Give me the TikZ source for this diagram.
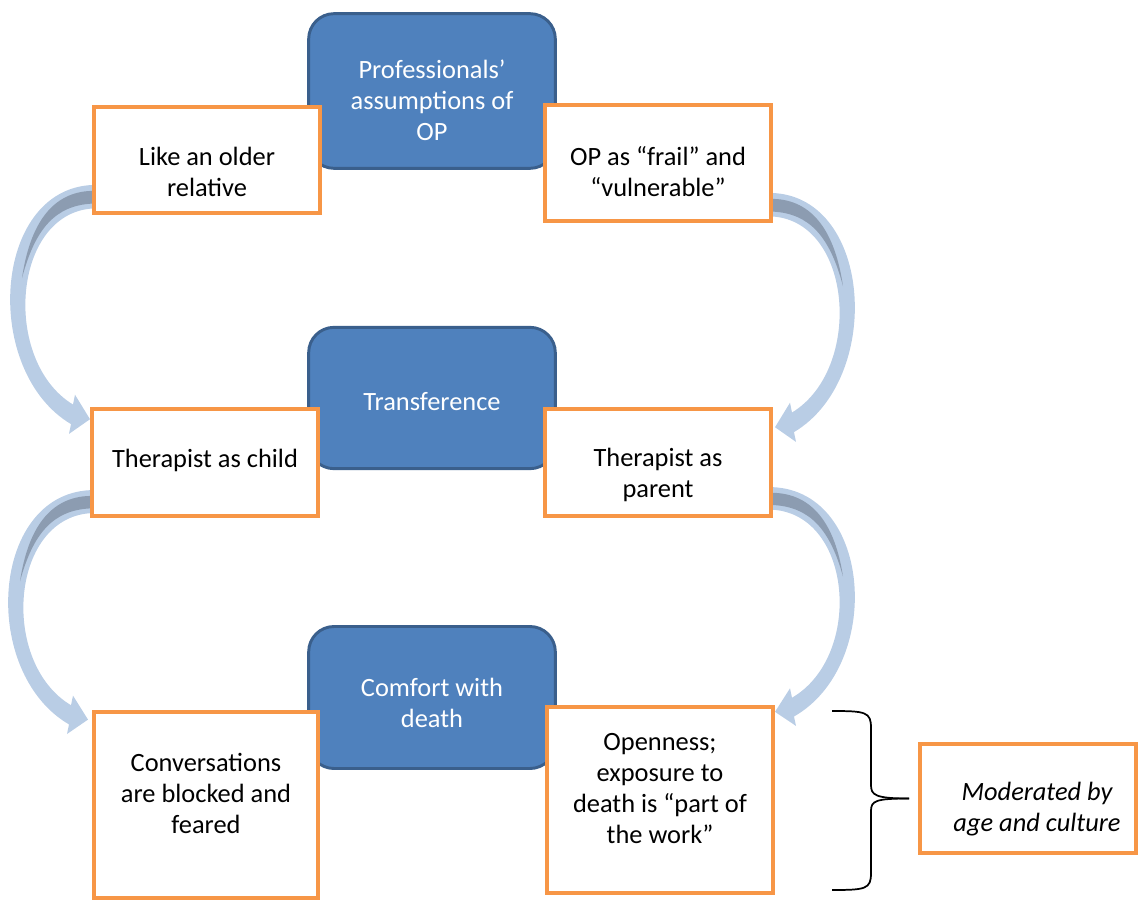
\documentclass[tikz,border=0pt]{standalone}
\usepackage{fontspec}
\setmainfont{Carlito}
\usetikzlibrary{calc,backgrounds}
\definecolor{bluefill}{HTML}{4F81BD}
\definecolor{blueline}{HTML}{3A5F8C}
\definecolor{orangeline}{HTML}{F79646}
\definecolor{arrowlight}{HTML}{B9CDE5}
\definecolor{arrowdark}{HTML}{8C9CB1}
\newcommand{\blockarrowshape}{%
  \fill[arrowlight] (0,0) .. controls (-100,5) and (-110,190) .. (-21,244) -- (-23,254) -- (-2,239) -- (-17,214) -- (-19,224) .. controls (-90,180) and (-80,30) .. (0,24) -- cycle;
  \fill[arrowdark] (0,6) .. controls (-40,7) and (-62,40) .. (-70,95) .. controls (-57,45) and (-37,21) .. (0,19) -- cycle;}
\begin{document}
\begin{tikzpicture}[x=0.75pt,y=-0.75pt,
  bluebox/.style={draw=blueline, line width=2.2pt, fill=bluefill, rounded corners=19pt, inner sep=0pt, minimum width=185pt},
  obox/.style={draw=orangeline, line width=3pt, fill=white, inner sep=0pt},
  wtxt/.style={text=white, align=center, font=\fontsize{19.8}{23.25}\selectfont},
  btxt/.style={text=black, align=center, font=\fontsize{19.8}{23.25}\selectfont},
  bracestyle/.style={draw=black, line width=1.3pt}]
\useasboundingbox (0,0) rectangle (1139,902);

% blue category boxes
\node[bluebox, minimum height=116pt] (assume) at (432,91) {};
\node[bluebox, minimum height=106pt] (transf) at (432,398) {};
\node[bluebox, minimum height=106.5pt] (comfort) at (432,697.5) {};

% orange boxes
\node[obox, minimum width=169.5pt, minimum height=79.5pt] (like) at (207,160) {};
\node[obox, minimum width=169.5pt, minimum height=87pt] (frail) at (658,163) {};
\node[obox, minimum width=169.5pt, minimum height=80pt] (child) at (205,462.5) {};
\node[obox, minimum width=169.5pt, minimum height=80pt] (parent) at (658,462.5) {};
\node[obox, minimum width=168pt, minimum height=139.5pt] (conv) at (206,805) {};
\node[obox, minimum width=169.5pt, minimum height=139.5pt] (open) at (660,800) {};
\node[obox, minimum width=162pt, minimum height=81.75pt] (mod) at (1028,798.5) {};

% texts
\node[wtxt] (tassume) at (432,100) {Professionals’\\assumptions of\\OP};
\node[wtxt] (ttransf) at (432,402) {Transference};
\node[wtxt] (tcomfort) at (432,703) {Comfort with\\death};
\node[btxt] (tlike) at (207,172) {Like an older\\relative};
\node[btxt] (tfrail) at (658,172) {OP as “frail” and\\“vulnerable”};
\node[btxt] (tchild) at (205,460) {Therapist as child};
\node[btxt] (tparent) at (658,475) {Therapist as\\parent};
\node[btxt] (tconv) at (206,793) {Conversations\\are blocked and\\feared};
\node[btxt] (topen) at (660,789) {Openness;\\exposure to\\death is “part of\\the work”};
\node[btxt, font=\fontsize{19.8}{23.25}\selectfont\itshape] (tmod) at (1037,809) {Moderated by\\age and culture};

% block arrows behind boxes
\begin{scope}[on background layer]
  \begin{scope}[shift={($(like.north west)+(0,80)$)}, yscale=0.98]
    \blockarrowshape
  \end{scope}
  \begin{scope}[shift={($(child.north west)+(0,83)$)}, yscale=0.96]
    \blockarrowshape
  \end{scope}
  \begin{scope}[shift={($(frail.north east)+(0,90)$)}, xscale=-1, yscale=0.98]
    \blockarrowshape
  \end{scope}
  \begin{scope}[shift={($(parent.north east)+(0,80)$)}, xscale=-1, yscale=0.94]
    \blockarrowshape
  \end{scope}
\end{scope}

% brace
\coordinate (btop) at ($(open.north east)+(57,6)$);
\coordinate (bbot) at ($(open.south east)+(57,-5)$);
\coordinate (btip) at ($(mod.west)+(-9,0)$);
\draw[bracestyle] (btop) .. controls ++(34,0) and ++(0,-16) .. ++(39,17) -- ++(0,57)
  .. controls ++(0,10) and ++(-34,0) .. (btip);
\draw[bracestyle] (bbot) .. controls ++(34,0) and ++(0,16) .. ++(39,-17) -- ++(0,-62)
  .. controls ++(0,-10) and ++(-34,0) .. (btip);
\end{tikzpicture}
\end{document}
